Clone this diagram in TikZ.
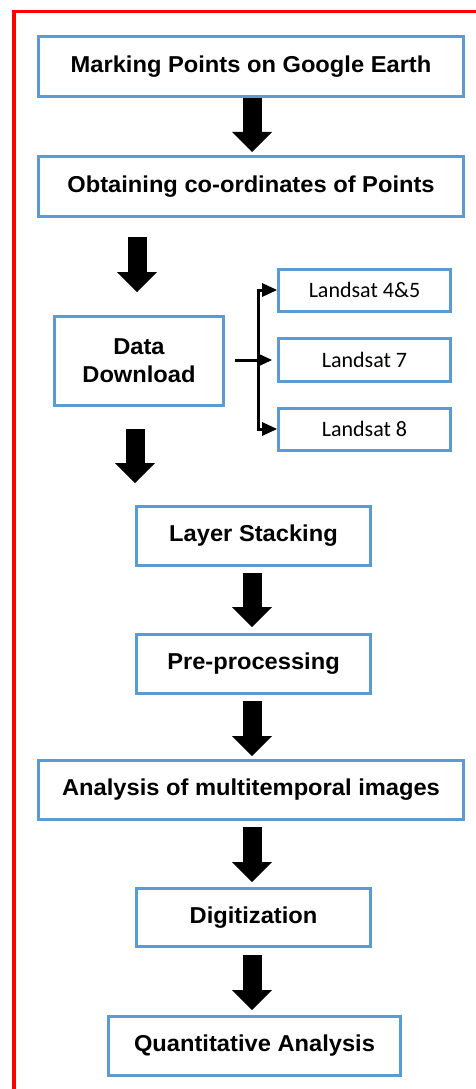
\documentclass[tikz,border=0pt]{standalone}
\usepackage{fontspec}
\setmainfont{Liberation Sans}
\newfontfamily\bsans[FakeStretch=1.03]{Liberation Sans}
\newfontfamily\calfont{Carlito}
\usetikzlibrary{arrows.meta,calc}
\definecolor{boxblue}{RGB}{91,155,213}
\begin{document}
\begin{tikzpicture}[x=1pt,y=-1pt,
  box/.style={draw=boxblue, line width=3pt, fill=white, inner sep=0pt, align=center,
    font=\bsans\bfseries\fontsize{23}{28}\selectfont},
  wide/.style={box, minimum width=425pt, minimum height=60pt},
  mid/.style={box, minimum width=234pt, minimum height=59pt},
  sat/.style={draw=boxblue, line width=3pt, fill=white, inner sep=0pt,
    minimum width=172pt, minimum height=42pt, font=\calfont\fontsize{22}{26}\selectfont},
  fat/.style={line width=19pt, -{Triangle[width=40pt,length=20pt,line width=0pt]}},
  thinarr/.style={line width=3pt, -{Triangle[width=14pt,length=15pt,line width=0pt]}}]
\useasboundingbox (0,0) rectangle (476,1089);
% red frame
\draw[red, line width=3.5pt, line join=miter] (14,1095) -- (14,11.5) -- (482,11.5);
% nodes
\node[wide] (mark) at (251,66.5) {Marking Points on Google Earth};
\node[wide] (obt) at (251,186.5) {Obtaining co-ordinates of Points};
\node[box, minimum width=169pt, minimum height=89pt] (dd) at (139,361) {Data\\Download};
\node[sat] (l45) at (364.5,290) {Landsat 4\&5};
\node[sat, minimum height=43pt] (l7) at (364.5,360) {Landsat 7};
\node[sat] (l8) at (364.5,429) {Landsat 8};
\node[mid] (layer) at (253.5,536) {Layer Stacking};
\node[mid] (pre) at (253.5,664) {Pre-processing};
\node[wide, minimum height=59pt] (ana) at (251,790) {Analysis of multitemporal images};
\node[mid, minimum height=58pt] (dig) at (253.5,917.5) {Digitization};
\node[box, minimum width=292pt, minimum height=59pt] (quant) at (254.5,1046) {Quantitative Analysis};
% fat arrows
\draw[fat] ($(mark.south)+(1,0)$) -- ($(obt.north)+(1,-3)$);
\draw[fat] ($(dd.north|-obt.south)+(-2,19)$) -- ($(dd.north)+(-2,-23)$);
\draw[fat] ($(dd.south)+(-4,22)$) -- ($(dd.south|-layer.north)+(-4,-22)$);
\draw[fat] ($(layer.south)+(-1.5,6)$) -- ($(pre.north)+(-1.5,-6)$);
\draw[fat] ($(pre.south)+(-1.5,6)$) -- ($(pre.south|-ana.north)+(-1.5,-3)$);
\draw[fat] ($(pre.south|-ana.south)+(-1.5,6)$) -- ($(dig.north)+(-1.5,-5)$);
\draw[fat] ($(dig.south)+(-1.5,7)$) -- ($(dig.south|-quant.north)+(-1.5,-5)$);
% branch
\coordinate (bar) at (258,360);
\draw[thinarr] ($(dd.east|-l7.west)+(10,0)$) -- ($(l7.west)+(-5,0)$);
\draw[thinarr] (bar) |- (l45.west);
\draw[thinarr] (bar) |- (l8.west);
\end{tikzpicture}
\end{document}
